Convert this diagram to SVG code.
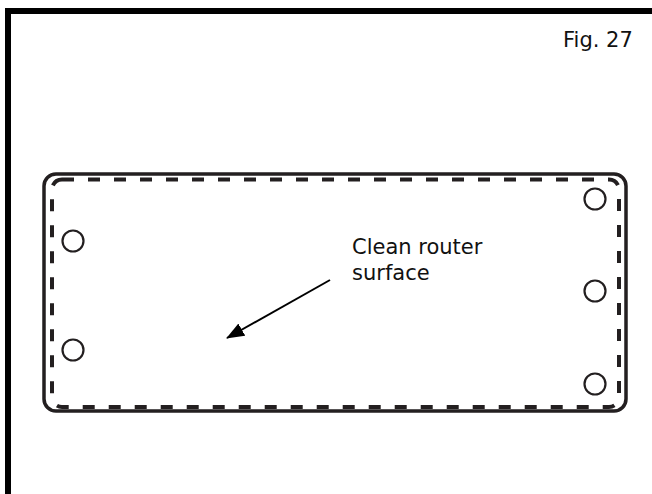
<svg xmlns="http://www.w3.org/2000/svg" width="652" height="494" viewBox="0 0 652 494">
<defs>
<style>
.frame{stroke:#000;stroke-width:6;fill:none}
.outer{fill:none;stroke:#231f20;stroke-width:3.5}
.dash{fill:none;stroke:#231f20;stroke-width:4;stroke-dasharray:12 14}
.hole{fill:#fff;stroke:#231f20;stroke-width:2.2}
.txt{font-family:"DejaVu Sans",Verdana,sans-serif;font-size:21px;fill:#111}
</style>
<marker id="ah" markerWidth="18" markerHeight="14" refX="17" refY="7" orient="auto" markerUnits="userSpaceOnUse">
<path d="M0,0 L18,7 L0,14 Z" fill="#000"/>
</marker>
</defs>
<rect width="652" height="494" fill="#fff"/>
<path class="frame" d="M8,494 V11 H652"/>
<text class="txt" x="563" y="47">Fig. 27</text>
<g id="router">
<rect class="outer" x="44" y="174" width="582" height="237" rx="12"/>
<rect class="dash" x="52" y="179.5" width="567" height="227.5" rx="10"/>
</g>
<g id="holes">
<circle class="hole" cx="73" cy="241" r="10.5"/>
<circle class="hole" cx="73" cy="350" r="10.5"/>
<circle class="hole" cx="595" cy="199" r="10.5"/>
<circle class="hole" cx="595" cy="291" r="10.5"/>
<circle class="hole" cx="595" cy="384" r="10.5"/>
</g>
<g id="label">
<text class="txt" x="352" y="254">Clean router</text>
<text class="txt" x="352" y="280">surface</text>
</g>
<g id="connectors">
<line x1="330" y1="280" x2="227" y2="338" stroke="#000" stroke-width="2" marker-end="url(#ah)"/>
</g>
</svg>
